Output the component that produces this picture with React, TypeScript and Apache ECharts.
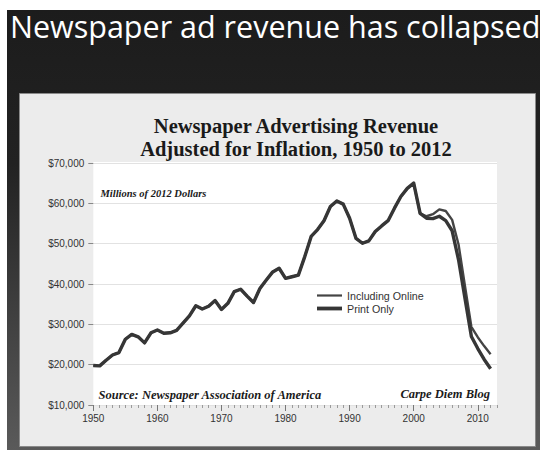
import React, { useEffect, useRef } from 'react';
import * as echarts from 'echarts';

const slideTitle = 'Newspaper ad revenue has collapsed';
const chartTitle1 = 'Newspaper Advertising Revenue';
const chartTitle2 = 'Adjusted for Inflation, 1950 to 2012';
const unitNote = 'Millions of 2012 Dollars';
const sourceNote = 'Source: Newspaper Association of America';
const blogNote = 'Carpe Diem Blog';

const years = Array.from({ length: 63 }, (_, i) => 1950 + i);
const decadeTicks = [1950, 1960, 1970, 1980, 1990, 2000, 2010];

const printOnly = [
  19800, 19700, 21100, 22400, 23000, 26300, 27500, 26900, 25400, 27900,
  28600, 27800, 27900, 28500, 30300, 32100, 34600, 33800, 34500, 35900,
  33700, 35200, 38100, 38700, 37000, 35400, 38900, 41000, 43000, 43900,
  41400, 41800, 42200, 46800, 51800, 53500, 55700, 59200, 60600, 59800,
  56300, 51300, 50100, 50700, 53000, 54400, 55700, 58800, 61700, 63700,
  65000, 57500, 56300, 56200, 56800, 55700, 53200, 46000, 36500, 27000,
  24000, 21300, 19000,
];

const includingOnline = [
  19800, 19700, 21100, 22400, 23000, 26300, 27500, 26900, 25400, 27900,
  28600, 27800, 27900, 28500, 30300, 32100, 34600, 33800, 34500, 35900,
  33700, 35200, 38100, 38700, 37000, 35400, 38900, 41000, 43000, 43900,
  41400, 41800, 42200, 46800, 51800, 53500, 55700, 59200, 60600, 59800,
  56300, 51300, 50100, 50700, 53000, 54400, 55700, 58800, 61700, 63700,
  65000, 57500, 56800, 57300, 58500, 58100, 55900, 49800, 39500, 29400,
  26800, 24600, 22600,
];

const SERIF = '"Liberation Serif", "DejaVu Serif", serif';
const SANS = '"Liberation Sans", Arial, sans-serif';

export default function App() {
  const ref = useRef<HTMLDivElement>(null);
  useEffect(() => {
    const chart = echarts.init(ref.current!, null, { renderer: 'svg' });
    const option: any = {
      animation: false,
      backgroundColor: '#ffffff',
      graphic: [
        {
          type: 'rect',
          z: -30,
          shape: { x: 7, y: 10, width: 533, height: 440 },
          style: {
            fill: new echarts.graphic.LinearGradient(0, 0, 0, 1, [
              { offset: 0, color: '#1c1c1c' },
              { offset: 0.35, color: '#222222' },
              { offset: 1, color: '#5a5a5a' },
            ]),
          },
        },
        {
          type: 'rect',
          z: -20,
          shape: { x: 19.5, y: 93.5, width: 516, height: 353 },
          style: { fill: '#ececec', stroke: '#8a8a8a', lineWidth: 1 },
        },
        {
          type: 'rect',
          z: -10,
          shape: { x: 93.3, y: 162, width: 403.7, height: 243 },
          style: { fill: '#ffffff' },
        },
        {
          type: 'text',
          z: 50,
          x: 10,
          y: 26,
          style: {
            text: slideTitle,
            fill: '#ffffff',
            font: '30.5px "Open Sans", "Noto Sans", sans-serif',
            align: 'left',
            verticalAlign: 'middle',
          },
        },
        {
          type: 'text',
          z: 50,
          x: 296,
          y: 126.3,
          style: {
            text: chartTitle1,
            fill: '#1a1a1a',
            font: 'bold 20.5px ' + SERIF,
            align: 'center',
            verticalAlign: 'middle',
          },
        },
        {
          type: 'text',
          z: 50,
          x: 296,
          y: 149.1,
          style: {
            text: chartTitle2,
            fill: '#1a1a1a',
            font: 'bold 20.5px ' + SERIF,
            align: 'center',
            verticalAlign: 'middle',
          },
        },
        {
          type: 'text',
          z: 50,
          x: 100.5,
          y: 193.5,
          style: {
            text: unitNote,
            fill: '#1a1a1a',
            font: 'italic bold 10.5px ' + SERIF,
            align: 'left',
            verticalAlign: 'middle',
          },
        },
        {
          type: 'text',
          z: 50,
          x: 98.5,
          y: 394.8,
          style: {
            text: sourceNote,
            fill: '#1a1a1a',
            font: 'italic bold 12.5px ' + SERIF,
            align: 'left',
            verticalAlign: 'middle',
          },
        },
        {
          type: 'text',
          z: 50,
          x: 490,
          y: 393.8,
          style: {
            text: blogNote,
            fill: '#1a1a1a',
            font: 'italic bold 12.5px ' + SERIF,
            align: 'right',
            verticalAlign: 'middle',
          },
        },
      ],
      grid: { left: 93.3, top: 163, right: 43, bottom: 45, containLabel: false },
      legend: {
        orient: 'vertical',
        left: 317,
        top: 290,
        padding: 0,
        itemWidth: 25,
        itemHeight: 12,
        itemGap: 2,
        textStyle: { fontFamily: SANS, fontSize: 10.7, color: '#333' },
        data: [
          { name: 'Including Online', icon: 'path://M0,0H25V2.2H0Z' },
          { name: 'Print Only', icon: 'path://M0,0H25V3.8H0Z' },
        ],
      },
      xAxis: [
        {
          type: 'value',
          min: 1950,
          max: 2013,
          interval: 1,
          axisLine: { show: false },
          axisTick: { show: true, length: 3, lineStyle: { color: '#9a9a9a', width: 1 } },
          axisLabel: { show: false },
          splitLine: { show: false },
        },
        {
          type: 'value',
          min: 1950,
          max: 2013,
          position: 'bottom',
          axisLine: { show: false },
          axisTick: {
            show: true,
            length: 6,
            customValues: decadeTicks,
            lineStyle: { color: '#777', width: 1 },
          },
          axisLabel: {
            show: true,
            customValues: decadeTicks,
            fontFamily: SANS,
            fontSize: 10,
            color: '#333',
            margin: 8,
            formatter: (v: number) => String(Math.round(v)),
          },
          splitLine: { show: false },
        },
      ],
      yAxis: {
        type: 'value',
        min: 10000,
        max: 70000,
        interval: 10000,
        axisLine: { show: false },
        axisTick: { show: true, length: 5, lineStyle: { color: '#888' } },
        axisLabel: {
          fontFamily: SANS,
          fontSize: 10,
          color: '#333',
          margin: 9,
          formatter: (v: number) => '$' + v.toLocaleString('en-US'),
        },
        splitLine: { show: true, lineStyle: { color: '#e2e2e2', width: 1 } },
      },
      series: [
        {
          name: 'Including Online',
          type: 'line',
          xAxisIndex: 0,
          showSymbol: false,
          symbol: 'none',
          color: '#444444',
          lineStyle: { width: 2.4, color: '#444444', join: 'round' },
          data: years.map((y, i) => [y, includingOnline[i]]),
          z: 3,
        },
        {
          name: 'Print Only',
          type: 'line',
          xAxisIndex: 0,
          showSymbol: false,
          symbol: 'none',
          color: '#363636',
          lineStyle: { width: 3.4, color: '#363636', join: 'round' },
          data: years.map((y, i) => [y, printOnly[i]]),
          z: 4,
        },
      ],
    };
    chart.setOption(option);
    return () => chart.dispose();
  }, []);
  return (
    <div
      ref={ref}
      style={{ position: 'fixed', left: 0, top: 0, width: 540, height: 450 }}
    />
  );
}
